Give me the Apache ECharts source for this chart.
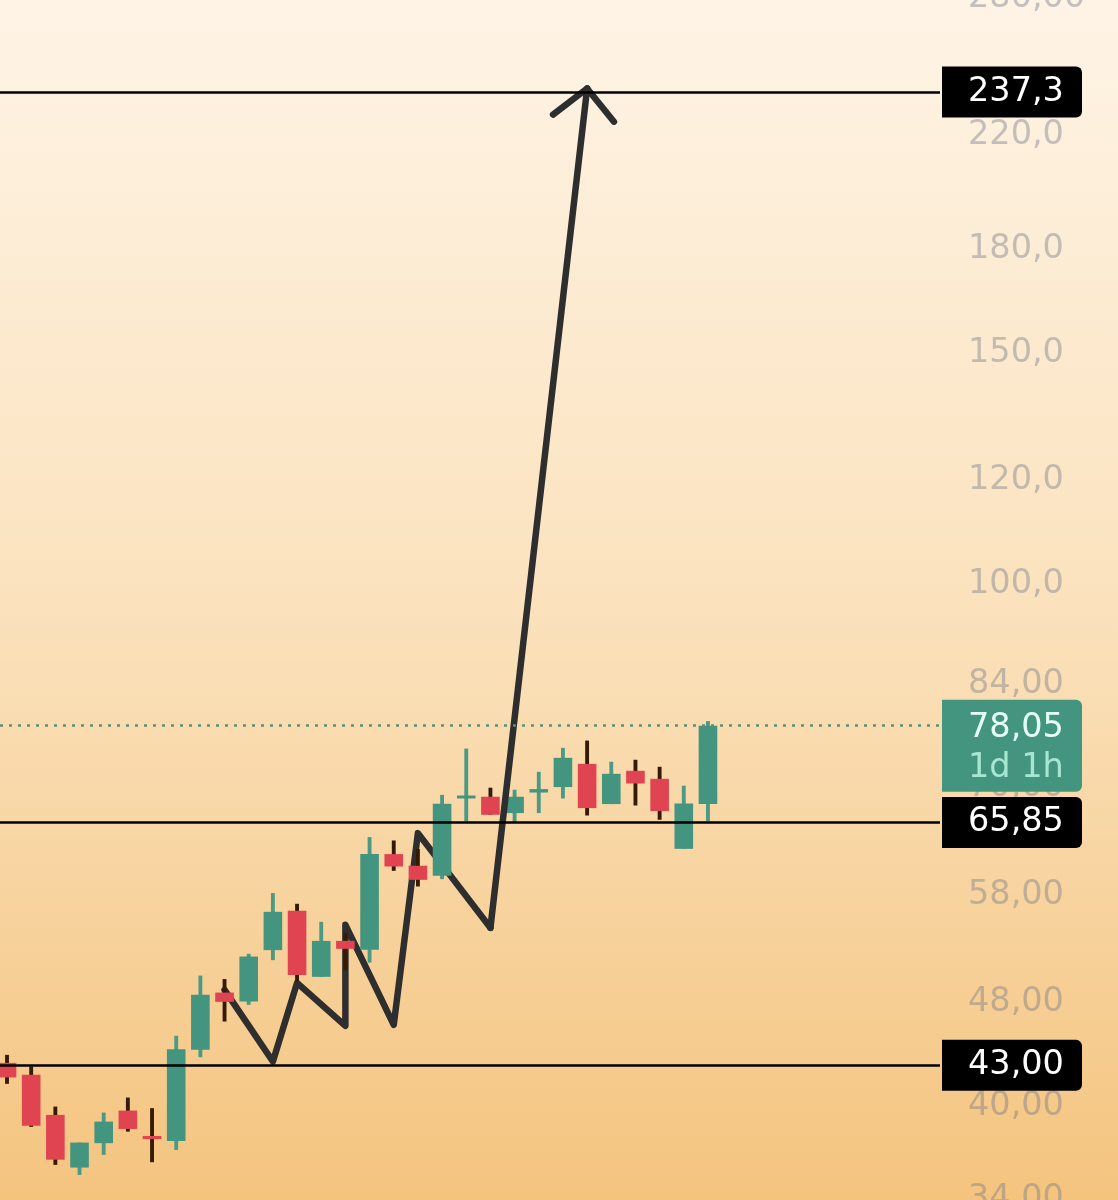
<!DOCTYPE html>
<html>
<head>
<meta charset="utf-8">
<title>Chart</title>
<style>
  html, body { margin: 0; padding: 0; background: #fbe3bd; }
  #chart { width: 1118px; height: 1200px; }
</style>
<script src="https://cdn.jsdelivr.net/npm/echarts@6/dist/echarts.min.js"></script>
</head>
<body>
<div id="chart"></div>
<script>
// candles, left to right
var opens = [43.19, 42.29, 39.42, 35.94, 37.51, 39.72, 37.99, 37.66, 44.19, 48.86,
             48.10, 52.64, 56.40, 50.23, 53.50, 52.67, 62.30, 61.04, 59.97, 68.69,
             68.90, 66.95, 69.41, 70.08, 72.99, 68.02, 72.11, 71.10, 62.88, 68.02];
var closes = [42.10, 38.67, 36.44, 37.55, 38.96, 38.46, 37.78, 44.24, 48.67, 48.07,
              52.05, 56.30, 50.40, 53.50, 52.76, 62.30, 60.96, 59.55, 68.05, 69.05,
              66.75, 68.90, 69.83, 73.77, 67.54, 71.73, 70.52, 67.19, 68.09, 78.05];
var lows = [41.63, 38.60, 36.11, 35.48, 36.75, 38.28, 36.28, 37.07, 43.62, 46.44,
            47.82, 51.72, 49.82, 50.23, 50.79, 51.50, 60.50, 58.86, 59.62, 65.97,
            66.75, 65.90, 66.95, 68.69, 66.67, 68.02, 67.85, 66.17, 62.88, 65.97];
var highs = [43.80, 42.91, 40.00, 37.55, 39.58, 40.64, 39.89, 45.29, 50.34, 50.03,
             52.30, 58.18, 57.10, 55.32, 54.26, 64.19, 63.81, 62.85, 69.13, 74.98,
             70.00, 69.75, 71.98, 75.07, 76.04, 73.26, 73.52, 72.62, 70.25, 78.68];

// hand drawn path over the candles: [candle index, price]
var zigzag = [[9, 49.09], [11, 43.29], [12, 49.70], [14, 46.09], [14, 55.03], [16, 46.17], [17, 64.64], [20, 54.74]];
var lastLeg = [[20, 54.74], [24, 238.8]];
var arrowHead = [[22.59, 228.1], [24, 238.8], [25.11, 225.3]];

var tickValues = [34, 40, 48, 58, 70, 84, 100, 120, 150, 180, 220, 280];
var tickLabels = ['34,00', '40,00', '48,00', '58,00', '70,00', '84,00', '100,0', '120,0', '150,0', '180,0', '220,0', '280,00'];

var levels = [43, 65.85, 237.3];
var levelLabels = ['43,00', '65,85', '237,3'];
var lastPrice = 78.05;
var lastPriceLabel = '78,05';
var lastPriceTimer = '1d 1h';

var UP = '#43957f', DOWN = '#df4450', UP_WICK = '#4b9a85', DOWN_WICK = '#351a06';
var FONT = 'DejaVu Sans';

var candles = opens.map(function (o, i) {
  return [i, o, closes[i], lows[i], highs[i]];
});

function renderCandle(params, api) {
  var i = api.value(0), o = api.value(1), c = api.value(2);
  var band = api.size([1, 0])[0];
  var bodyW = band * 0.77, wickW = band * 0.16;
  var x = api.coord([i, o])[0];
  var yOpen = api.coord([i, o])[1], yClose = api.coord([i, c])[1];
  var yLow = api.coord([i, api.value(3)])[1], yHigh = api.coord([i, api.value(4)])[1];
  var up = c >= o;
  var top = Math.min(yOpen, yClose);
  return {
    type: 'group',
    children: [
      { type: 'rect', shape: { x: x - wickW / 2, y: yHigh, width: wickW, height: yLow - yHigh },
        style: { fill: up ? UP_WICK : DOWN_WICK } },
      { type: 'rect', shape: { x: x - bodyW / 2, y: top, width: bodyW, height: Math.abs(yOpen - yClose) },
        style: { fill: up ? UP : DOWN } }
    ]
  };
}

function pathSeries(data, z) {
  return {
    type: 'line',
    data: data,
    z: z,
    symbol: 'none',
    silent: true,
    lineStyle: { color: '#2e2e2e', width: 6.5, cap: 'round', join: 'round' }
  };
}

var levelLines = levels.map(function (v, i) {
  return {
    yAxis: v,
    label: { formatter: levelLabels[i] }
  };
});

var myChart = echarts.init(document.getElementById('chart'));
var option = {
  animation: false,
  backgroundColor: new echarts.graphic.LinearGradient(0, 0, 0, 1, [
    { offset: 0, color: '#fef4e6' },
    { offset: 0.5, color: '#fbe2bd' },
    { offset: 1, color: '#f4c47f' }
  ]),
  grid: { left: 0, right: 178, top: -20, bottom: -20, outerBoundsMode: 'none' },
  xAxis: {
    type: 'value',
    min: -0.29,
    max: 38.6,
    show: false
  },
  yAxis: {
    type: 'log',
    position: 'right',
    min: 32.78,
    max: 288.9,
    axisLine: { show: false },
    axisTick: { show: false },
    splitLine: { show: false },
    axisLabel: {
      customValues: tickValues,
      margin: 28,
      hideOverlap: false,
      color: 'rgba(115,122,135,0.42)',
      fontFamily: FONT,
      fontSize: 33.5,
      padding: [0, 0, 6, 0],
      formatter: function (v) {
        var idx = tickValues.findIndex(function (t) { return Math.abs(t - v) < 0.5; });
        return idx >= 0 ? tickLabels[idx] : '';
      }
    }
  },
  series: [
    {
      type: 'line',
      data: [],
      z: 1,
      silent: true,
      markLine: {
        silent: true,
        symbol: 'none',
        precision: 2,
        lineStyle: { color: '#000', width: 2.7, type: 'solid' },
        label: {
          position: 'end',
          distance: 2,
          align: 'left',
          verticalAlign: 'middle',
          color: '#fff',
          fontFamily: FONT,
          fontSize: 33.5,
          backgroundColor: '#000',
          borderRadius: [0, 6, 6, 0],
          padding: [0, 0, 0, 26],
          width: 114,
          height: 51,
          lineHeight: 51
        },
        data: levelLines
      }
    },
    {
      type: 'line',
      data: [],
      z: 1,
      silent: true,
      markLine: {
        silent: true,
        symbol: 'none',
        lineStyle: { color: '#5d9079', width: 2.6, type: [3, 6] },
        label: {
          position: 'end',
          distance: 2,
          align: 'left',
          verticalAlign: 'middle',
          offset: [0, 20],
          formatter: '{a|' + lastPriceLabel + '}\n{b|' + lastPriceTimer + '}',
          backgroundColor: UP,
          borderRadius: [0, 6, 6, 0],
          padding: [9, 0, 0, 26],
          width: 114,
          height: 83,
          rich: {
            a: { color: '#e6fff6', fontFamily: FONT, fontSize: 33.5, lineHeight: 40 },
            b: { color: '#a8e6d2', fontFamily: FONT, fontSize: 33.5, lineHeight: 40 }
          }
        },
        data: [{ yAxis: lastPrice }]
      }
    },
    pathSeries(zigzag, 2),
    {
      type: 'custom',
      z: 3,
      silent: true,
      renderItem: renderCandle,
      encode: { x: 0, y: [1, 2, 3, 4] },
      data: candles
    },
    pathSeries(lastLeg, 4),
    pathSeries(arrowHead, 4)
  ]
};
myChart.setOption(option);
</script>
</body>
</html>
